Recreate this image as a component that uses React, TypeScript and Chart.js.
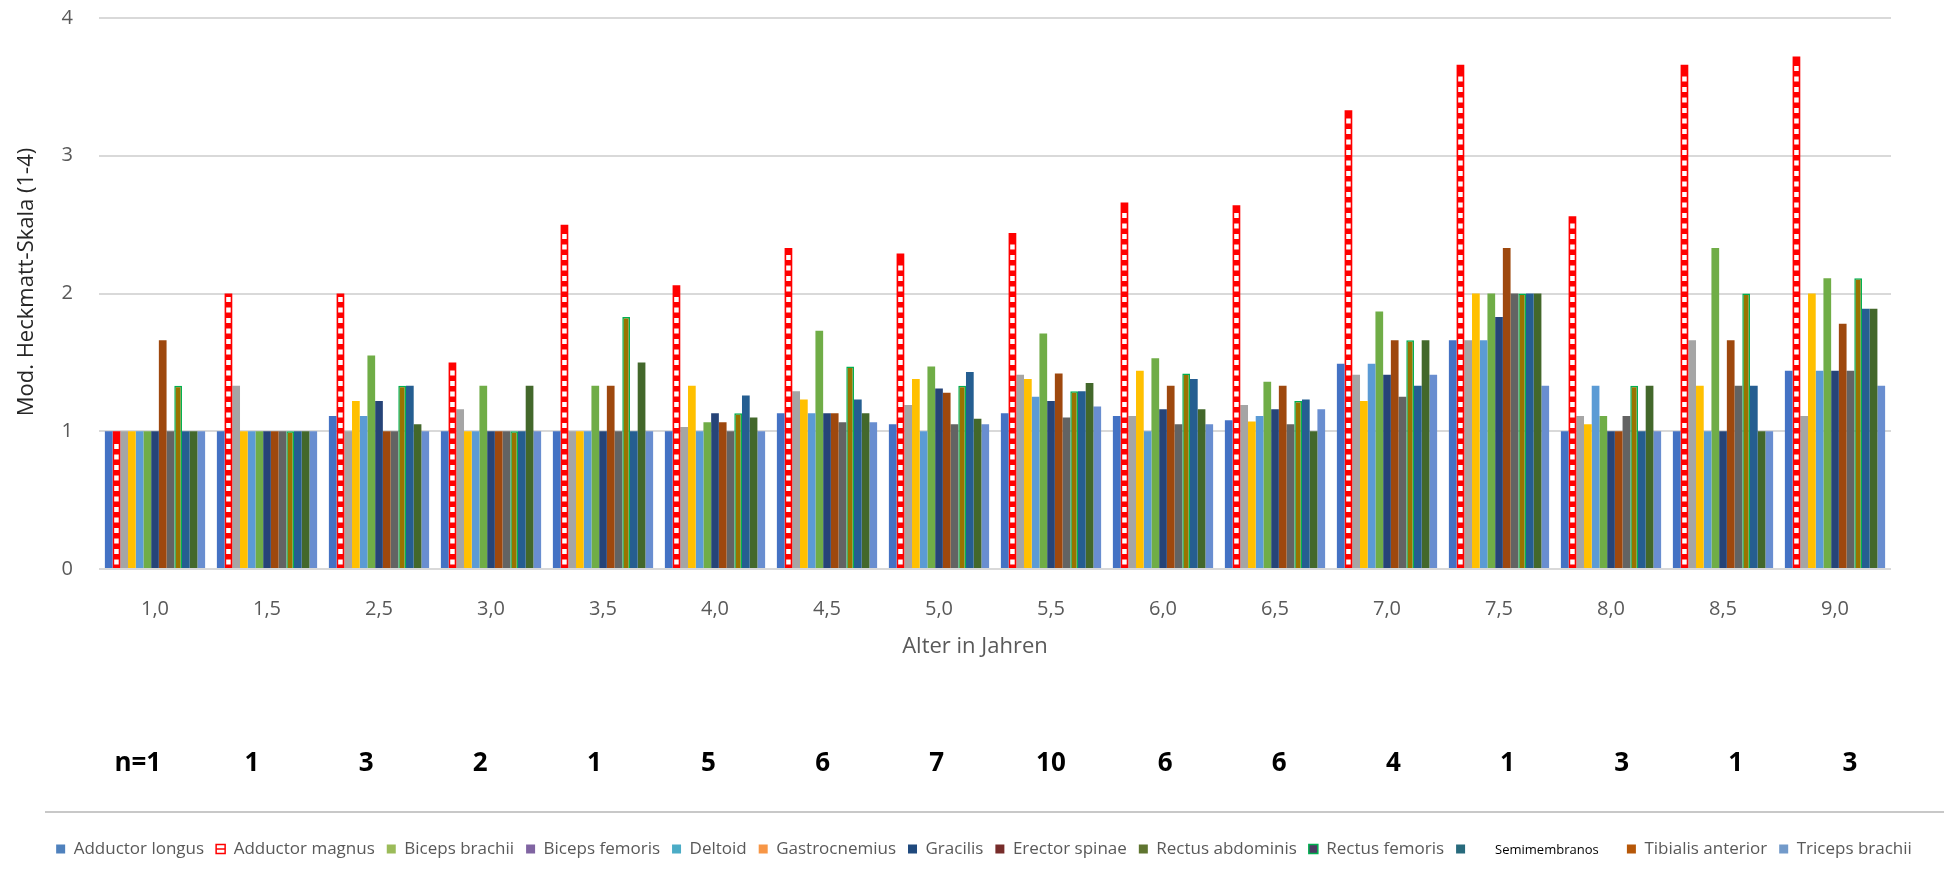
import React, { useEffect, useRef } from "react";
import { Chart, registerables } from "chart.js";
Chart.register(...registerables);

const categories = ["1,0", "1,5", "2,5", "3,0", "3,5", "4,0", "4,5", "5,0", "5,5", "6,0", "6,5", "7,0", "7,5", "8,0", "8,5", "9,0"];
const nLabels = ["n=1", "1", "3", "2", "1", "5", "6", "7", "10", "6", "6", "4", "1", "3", "1", "3"];
const yTicks = [0, 1, 2, 3, 4];

const seriesNames = [
  "Adductor longus", "Adductor magnus", "Biceps brachii", "Biceps femoris", "Deltoid", "Gastrocnemius",
  "Gracilis", "Erector spinae", "Rectus abdominis", "Rectus femoris", "Semimembranos", "Tibialis anterior", "Triceps brachii",
];

const adductorLongus = [1, 1, 1.11, 1, 1, 1, 1.13, 1.05, 1.13, 1.11, 1.08, 1.49, 1.66, 1, 1, 1.44];
const adductorMagnus = [1, 2, 2, 1.5, 2.5, 2.06, 2.33, 2.29, 2.44, 2.66, 2.64, 3.33, 3.66, 2.56, 3.66, 3.72];
const bicepsBrachii = [1, 1.33, 1, 1.16, 1, 1.03, 1.29, 1.19, 1.41, 1.11, 1.19, 1.41, 1.66, 1.11, 1.66, 1.11];
const bicepsFemoris = [1, 1, 1.22, 1, 1, 1.33, 1.23, 1.38, 1.38, 1.44, 1.07, 1.22, 2, 1.05, 1.33, 2];
const deltoid = [1, 1, 1.11, 1, 1, 1, 1.13, 1, 1.25, 1, 1.11, 1.49, 1.66, 1.33, 1, 1.44];
const gastrocnemius = [1, 1, 1.55, 1.33, 1.33, 1.065, 1.73, 1.47, 1.71, 1.53, 1.36, 1.87, 2, 1.11, 2.33, 2.11];
const gracilis = [1, 1, 1.22, 1, 1, 1.13, 1.13, 1.31, 1.22, 1.16, 1.16, 1.41, 1.83, 1, 1, 1.44];
const erectorSpinae = [1.66, 1, 1, 1, 1.33, 1.065, 1.13, 1.28, 1.42, 1.33, 1.33, 1.66, 2.33, 1, 1.66, 1.78];
const rectusAbdominis = [1, 1, 1, 1, 1, 1, 1.065, 1.05, 1.1, 1.05, 1.05, 1.25, 2, 1.11, 1.33, 1.44];
const rectusFemoris = [1.33, 1, 1.33, 1, 1.83, 1.13, 1.47, 1.33, 1.29, 1.42, 1.22, 1.66, 2, 1.33, 2, 2.11];
const semimembranos = [1, 1, 1.33, 1, 1, 1.26, 1.23, 1.43, 1.29, 1.38, 1.23, 1.33, 2, 1, 1.33, 1.89];
const tibialisAnterior = [1, 1, 1.05, 1.33, 1.5, 1.1, 1.13, 1.09, 1.35, 1.16, 1, 1.66, 2, 1.33, 1, 1.89];
const tricepsBrachii = [1, 1, 1, 1, 1, 1, 1.065, 1.05, 1.18, 1.05, 1.16, 1.41, 1.33, 1, 1, 1.33];

const seriesValues = [
  adductorLongus, adductorMagnus, bicepsBrachii, bicepsFemoris, deltoid, gastrocnemius,
  gracilis, erectorSpinae, rectusAbdominis, rectusFemoris, semimembranos, tibialisAnterior, tricepsBrachii,
];

// bar styles
const barColors = ["#4472C4", "#FF0000", "#A5A5A5", "#FFC000", "#5B9BD5", "#70AD47", "#264478", "#9E480E", "#636363", "#997300", "#255E91", "#43682B", "#698ED0"];
const barBorderColors = ["#4472C4", "#FF0000", "#A5A5A5", "#FFC000", "#5B9BD5", "#70AD47", "#264478", "#9E480E", "#636363", "#00B050", "#255E91", "#43682B", "#698ED0"];
const barBorderWidths = [0, 0, 0, 0, 0, 0, 0, 0, 0, 1.5, 0, 0, 0];

// legend swatch styles (differ from bars in the original)
const legendFill = ["#4F81BD", "#FFFFFF", "#9BBB59", "#8064A2", "#4BACC6", "#F79646", "#1F497D", "#772C2A", "#5F7530", "#4D3B62", "#276A7C", "#B65708", "#729ACA"];
const legendStroke = ["#4F81BD", "#FF0000", "#9BBB59", "#8064A2", "#4BACC6", "#F79646", "#1F497D", "#772C2A", "#5F7530", "#00B050", "#276A7C", "#B65708", "#729ACA"];
const legendLineWidth = [0, 1.5, 0, 0, 0, 0, 0, 0, 0, 1.5, 0, 0, 0];

const FONT = "'Open Sans', 'Noto Sans', sans-serif";
const SEMI_INDEX = 10;
const SEMI_PLACEHOLDER = " ".repeat(32);
const LEGEND_FONT = 17;
const LEGEND_PAD = 12;
const LEFT_PAD = 24;
const XN_MIN = -0.34;
const XN_MAX = 15.36;

const decorPlugin = {
  id: "decor",
  afterDatasetDraw(chart: any, args: any) {
    if (args.index !== 1) return;
    const ctx = chart.ctx;
    ctx.save();
    ctx.fillStyle = "#FFFFFF";
    args.meta.data.forEach((bar: any) => {
      const { x, y, base, width } = bar.getProps(["x", "y", "base", "width"], true);
      const left = x - width / 2 + 1.6;
      const w = width - 3.2;
      const h = 5;
      const step = 10.5;
      for (let yy = base - 3.5 - h; yy >= y + 3; yy -= step) {
        ctx.fillRect(left, yy, w, h);
      }
    });
    ctx.restore();
  },
  afterDraw(chart: any) {
    const legend = chart.legend;
    if (!legend) return;
    const ctx = chart.ctx;
    const textCenter = legend.top + LEGEND_PAD + LEGEND_FONT / 2;
    ctx.save();
    // separator line above legend
    ctx.strokeStyle = "#C8C8C8";
    ctx.lineWidth = 2;
    ctx.beginPath();
    ctx.moveTo(45, textCenter - 37);
    ctx.lineTo(chart.width, textCenter - 37);
    ctx.stroke();
    const hbs = legend.legendHitBoxes || [];
    const boxH = 9;
    // Adductor magnus swatch middle line
    const hb1 = hbs[1];
    if (hb1) {
      const top = hb1.top + (LEGEND_FONT - boxH) / 2;
      ctx.strokeStyle = "#FF0000";
      ctx.lineWidth = 1.5;
      ctx.beginPath();
      ctx.moveTo(hb1.left, top + boxH / 2);
      ctx.lineTo(hb1.left + 9, top + boxH / 2);
      ctx.stroke();
    }
    // Semimembranos text (smaller, black)
    const hb = hbs[SEMI_INDEX];
    if (hb) {
      ctx.fillStyle = "#000000";
      ctx.font = `13px ${FONT}`;
      ctx.textBaseline = "middle";
      ctx.textAlign = "left";
      ctx.fillText(seriesNames[SEMI_INDEX], hb.left + 39, hb.top + LEGEND_FONT / 2 + 1);
    }
    ctx.restore();
  },
};

export default function App() {
  const canvasRef = useRef<HTMLCanvasElement | null>(null);

  useEffect(() => {
    if (!canvasRef.current) return;
    Chart.defaults.font.family = FONT;
    const chart = new Chart(canvasRef.current, {
      type: "bar",
      data: {
        labels: categories,
        datasets: seriesNames.map((name, i) => ({
          label: name,
          data: seriesValues[i],
          backgroundColor: barColors[i],
          borderColor: barBorderColors[i],
          borderWidth: barBorderWidths[i],
          categoryPercentage: 0.895,
          barPercentage: 1.0,
        })),
      },
      options: {
        responsive: false,
        animation: false,
        layout: { padding: { top: 18, right: 0, bottom: 1.5, left: LEFT_PAD } },
        plugins: {
          tooltip: { enabled: false },
          legend: {
            position: "bottom",
            labels: {
              boxWidth: 9,
              boxHeight: 9,
              padding: LEGEND_PAD,
              color: "#595959",
              font: { size: LEGEND_FONT, family: FONT },
              generateLabels: () =>
                seriesNames.map((name, i) => ({
                  text: i === SEMI_INDEX ? SEMI_PLACEHOLDER : name,
                  fillStyle: legendFill[i],
                  strokeStyle: legendStroke[i],
                  lineWidth: legendLineWidth[i],
                  hidden: false,
                  datasetIndex: i,
                  fontColor: "#595959",
                })),
            },
          },
        },
        scales: {
          x: {
            type: "category",
            position: "bottom",
            weight: 0,
            grid: { display: false, drawTicks: false },
            border: { display: false },
            ticks: { color: "#595959", font: { size: 20 }, padding: 28, maxRotation: 0, autoSkip: false },
            title: {
              display: true,
              text: "Alter in Jahren" + " ".repeat(7),
              color: "#595959",
              font: { size: 22 },
              padding: { top: 0, bottom: 0 },
            },
            afterFit: (s: any) => { s.height = 91; },
          },
          xn: {
            // free-typed sample-size row: slightly wider spacing than the bar groups
            type: "linear",
            position: "bottom",
            weight: 1,
            offset: false,
            bounds: "data",
            min: XN_MIN,
            max: XN_MAX,
            grid: {
              display: true,
              drawOnChartArea: false,
              drawTicks: true,
              tickLength: 88,
              tickColor: "rgba(0,0,0,0)",
              offset: false,
            },
            border: { display: false },
            afterBuildTicks: (s: any) => {
              s.ticks = nLabels.map((_, i) => ({ value: i }));
              s.min = XN_MIN;
              s.max = XN_MAX;
            },
            ticks: {
              color: "#000000",
              font: { size: 26, weight: "bold" },
              padding: 0,
              maxRotation: 0,
              autoSkip: false,
              callback: (_v: any, i: number) => nLabels[i],
            },
            afterFit: (s: any) => { s.height = 168.5; },
          },
          y: {
            min: yTicks[0],
            max: yTicks[yTicks.length - 1],
            position: "left",
            ticks: { stepSize: 1, color: "#595959", font: { size: 20 }, padding: 0 },
            grid: { color: "#D9D9D9", lineWidth: 2, drawTicks: true, tickLength: 26, tickColor: "rgba(0,0,0,0)" },
            border: { display: false },
            title: {
              display: true,
              text: " ".repeat(4) + "Mod. Heckmatt-Skala (1-4)",
              color: "#262626",
              font: { size: 22 },
              padding: { top: -10.2, bottom: 0 },
            },
            afterFit: (s: any) => { s.width = 99 - LEFT_PAD; },
          },
          yr: {
            type: "linear",
            position: "right",
            display: true,
            grid: { display: false, drawTicks: false },
            border: { display: false },
            ticks: { display: false },
            afterFit: (s: any) => { s.width = 53; },
          },
        },
      } as any,
      plugins: [decorPlugin],
    });
    return () => chart.destroy();
  }, []);

  return (
    <div style={{ position: "absolute", left: 0, top: 0, width: 1944, height: 869, background: "#fff" }}>
      <canvas ref={canvasRef} width={1944} height={869} style={{ display: "block" }} />
    </div>
  );
}
